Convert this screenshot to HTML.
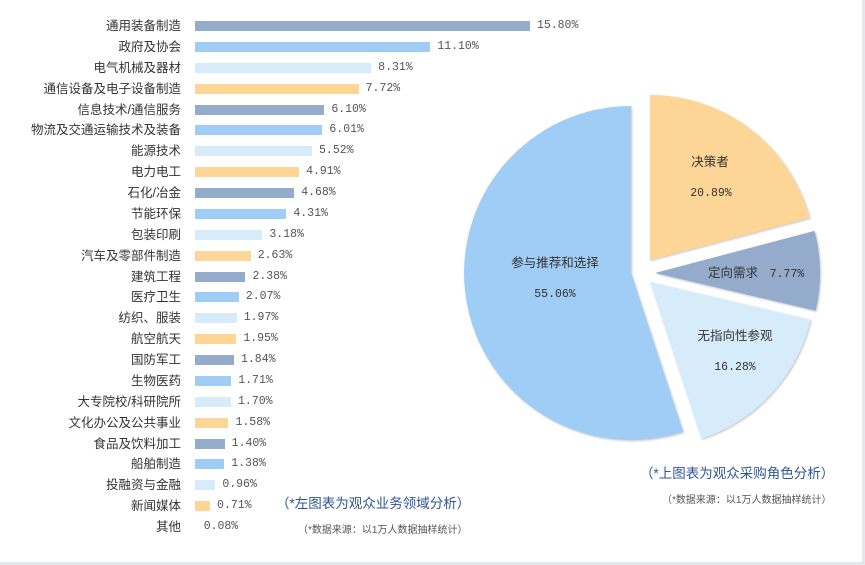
<!DOCTYPE html>
<html><head><meta charset="utf-8"><style>
body{margin:0;width:865px;height:565px;overflow:hidden;background:#e6e7e9;}
#c{position:absolute;left:0;top:0;width:862px;height:562px;background:#fff;}
.l{position:absolute;right:681px;font:12.5px "Liberation Sans","Noto Sans CJK SC",sans-serif;color:#333;white-space:nowrap;line-height:14px}
.b{position:absolute;left:195px;height:10px}
.v{position:absolute;font:11.5px "Liberation Mono","Noto Sans CJK SC",monospace;color:#555;line-height:14px}
.t{position:absolute;white-space:nowrap;font-family:"Liberation Sans","Noto Sans CJK SC",sans-serif}
</style></head><body><div id="c">
<div id="bars"></div>
<svg width="862" height="562" style="position:absolute;left:0;top:0" font-family="Liberation Sans, Noto Sans CJK SC, sans-serif">
<defs><filter id="s" x="-10%" y="-10%" width="120%" height="120%"><feDropShadow dx="1" dy="1" stdDeviation="1" flood-color="#888" flood-opacity="0.5"/></filter></defs>
<g filter="url(#s)">
<path d="M631,273 L631,106 A167,167 0 1 0 683.1,431.7 Z" fill="#9fcdf5"/>
<path d="M650,260 L650,95 A165,165 0 0 1 809.5,217.9 Z" fill="#fdd597"/>
<path d="M655,273 L814.5,230.9 A165,165 0 0 1 815.6,310.7 Z" fill="#95abcc"/>
<path d="M650,282 L810.6,319.7 A165,165 0 0 1 701.5,438.8 Z" fill="#d6ecfb"/>
</g>
<g fill="#333" font-size="12.5" text-anchor="middle">
<text x="555" y="267">参与推荐和选择</text>
<text x="555" y="297" font-family="Liberation Mono, monospace" font-size="11.5">55.06%</text>
<text x="710" y="166">决策者</text>
<text x="711" y="196" font-family="Liberation Mono, monospace" font-size="11.5">20.89%</text>
<text x="733" y="277">定向需求</text>
<text x="787" y="277" font-family="Liberation Mono, monospace" font-size="11.5">7.77%</text>
<text x="735" y="340">无指向性参观</text>
<text x="735" y="370" font-family="Liberation Mono, monospace" font-size="11.5">16.28%</text>
</g>
</svg>
<div class="t" style="left:276px;top:492px;font-size:13.5px;color:#2f5597">（*左图表为观众业务领域分析）</div>
<div class="t" style="left:298px;top:521px;font-size:10px;color:#555">（*数据来源：以1万人数据抽样统计）</div>
<div class="t" style="left:640px;top:462px;font-size:13.5px;color:#2f5597">（*上图表为观众采购角色分析）</div>
<div class="t" style="left:662px;top:491px;font-size:10px;color:#555">（*数据来源：以1万人数据抽样统计）</div>
</div>
<script>
var d=[["通用装备制造",15.80],["政府及协会",11.10],["电气机械及器材",8.31],["通信设备及电子设备制造",7.72],["信息技术/通信服务",6.10],["物流及交通运输技术及装备",6.01],["能源技术",5.52],["电力电工",4.91],["石化/冶金",4.68],["节能环保",4.31],["包装印刷",3.18],["汽车及零部件制造",2.63],["建筑工程",2.38],["医疗卫生",2.07],["纺织、服装",1.97],["航空航天",1.95],["国防军工",1.84],["生物医药",1.71],["大专院校/科研院所",1.70],["文化办公及公共事业",1.58],["食品及饮料加工",1.40],["船舶制造",1.38],["投融资与金融",0.96],["新闻媒体",0.71],["其他",0.08]];
var cols=["#95abcc","#9fcdf5","#d6ecfb","#fdd597"],h="";
d.forEach(function(r,i){var y=26+i*20.875,w=r[1]*21.2;
h+='<div class="l" style="top:'+(y-7)+'px">'+r[0]+'</div>';
if(w>2)h+='<div class="b" style="top:'+(y-5)+'px;width:'+w+'px;background:'+cols[i%4]+'"></div>';
h+='<div class="v" style="top:'+(y-7)+'px;left:'+(195+w+7)+'px">'+r[1].toFixed(2)+'%</div>';});
document.getElementById("bars").innerHTML=h;
</script>
</body></html>
